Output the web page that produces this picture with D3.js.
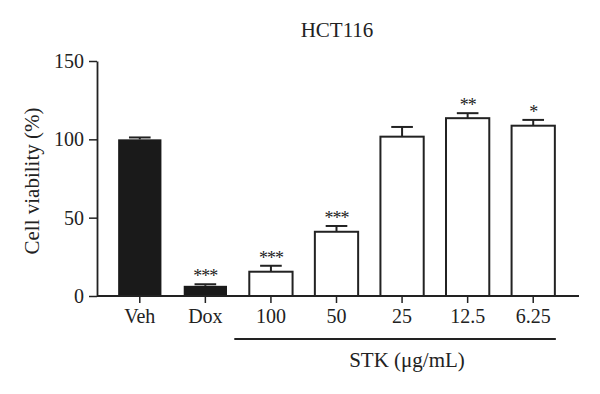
<!DOCTYPE html>
<html lang="en">
<head>
    <meta charset="UTF-8">
    <title>HCT116 cell viability</title>
    <script src="https://d3js.org/d3.v7.min.js"></script>
    <style>
        body { margin: 0; background-color: white; }
        svg text { font-family: "Liberation Serif", "DejaVu Serif", serif; fill: #222; }
    </style>
</head>
<body>
    <svg id="chart"></svg>

    <script>
        const width = 600;
        const height = 394;

        // Data
        const groups = ["Veh", "Dox", "100", "50", "25", "12.5", "6.25"];
        const means = [100, 6.5, 15.5, 41, 101.7, 113.5, 108.7];
        const errors = [1.2, 1.0, 3.8, 3.7, 6.2, 3.2, 3.7];
        const stars = ["", "***", "***", "***", "", "**", "*"];
        const filled = [true, true, false, false, false, false, false];
        const yTicks = [0, 50, 100, 150];

        const svg = d3.select("#chart")
            .attr("width", width)
            .attr("height", height);

        const x = d3.scaleBand()
            .domain(groups)
            .range([107, 566])
            .paddingInner(0.34)
            .paddingOuter(0.17);

        const y = d3.scaleLinear()
            .domain([0, 150])
            .range([296, 61]);

        const ink = "#222";
        const axisX = 97;

        // Title
        svg.append("text")
            .attr("x", 337)
            .attr("y", 37)
            .attr("text-anchor", "middle")
            .style("font-size", "21px")
            .text("HCT116");

        // Y axis
        const yAxis = svg.append("g")
            .attr("transform", `translate(${axisX},0)`)
            .call(d3.axisLeft(y).tickValues(yTicks).tickSize(8).tickPadding(5).tickSizeOuter(0));
        yAxis.select(".domain").attr("stroke", ink).attr("stroke-width", 1.8);
        yAxis.selectAll(".tick line").attr("stroke", ink).attr("stroke-width", 1.5);
        yAxis.selectAll(".tick text")
            .style("font-size", "20px")
            .style("font-family", "Liberation Serif, serif")
            .attr("fill", ink);

        svg.append("text")
            .attr("transform", "translate(39,181) rotate(-90)")
            .attr("text-anchor", "middle")
            .style("font-size", "21px")
            .text("Cell viability (%)");

        // Bars
        const bars = svg.append("g");
        groups.forEach((g, i) => {
            const bx = x(g);
            const bw = x.bandwidth();
            const cx = bx + bw / 2;
            const top = y(means[i]);
            const errTop = y(means[i] + errors[i]);

            // error bar (upper only)
            bars.append("line")
                .attr("x1", cx).attr("x2", cx)
                .attr("y1", top).attr("y2", errTop)
                .attr("stroke", ink).attr("stroke-width", 2);
            bars.append("line")
                .attr("x1", cx - bw / 4).attr("x2", cx + bw / 4)
                .attr("y1", errTop).attr("y2", errTop)
                .attr("stroke", ink).attr("stroke-width", 2);

            bars.append("rect")
                .attr("x", bx)
                .attr("y", top)
                .attr("width", bw)
                .attr("height", y(0) - top)
                .attr("fill", filled[i] ? "#1a1a1a" : "white")
                .attr("stroke", ink)
                .attr("stroke-width", filled[i] ? 0 : 2);

            if (stars[i]) {
                bars.append("text")
                    .attr("x", cx)
                    .attr("y", errTop - 2)
                    .attr("text-anchor", "middle")
                    .style("font-size", "18px")
                    .style("letter-spacing", "-1px")
                    .text(stars[i]);
            }
        });

        // X axis
        const xAxis = svg.append("g")
            .attr("transform", "translate(0,296)")
            .call(d3.axisBottom(x).tickSize(7).tickPadding(6).tickSizeOuter(0));
        xAxis.select(".domain").remove();
        xAxis.selectAll(".tick line").attr("stroke", ink).attr("stroke-width", 1.5);
        xAxis.selectAll(".tick text")
            .style("font-size", "20px")
            .style("font-family", "Liberation Serif, serif")
            .attr("fill", ink);
        svg.append("line")
            .attr("x1", axisX).attr("x2", 579)
            .attr("y1", 296).attr("y2", 296)
            .attr("stroke", ink).attr("stroke-width", 1.8);

        // STK group bracket
        svg.append("line")
            .attr("x1", x("100") - 15).attr("x2", x("6.25") + x.bandwidth() + 1)
            .attr("y1", 339).attr("y2", 339)
            .attr("stroke", ink).attr("stroke-width", 1.8);
        svg.append("text")
            .attr("x", 407)
            .attr("y", 367)
            .attr("text-anchor", "middle")
            .style("font-size", "21px")
            .text("STK (μg/mL)");
    </script>
</body>
</html>
